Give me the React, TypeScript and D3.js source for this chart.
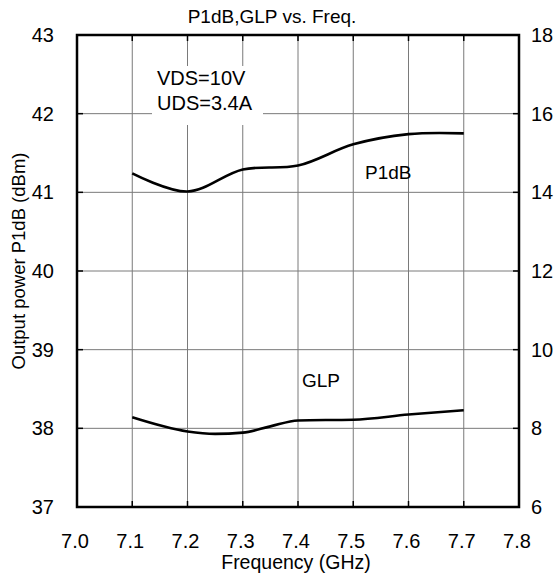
import * as d3 from "d3"

// frequency points (GHz)
const p1dbFreq = [7.1, 7.2, 7.3, 7.4, 7.5, 7.6, 7.7]
// output power P1dB (dBm), left axis
const p1dbValues = [41.24, 41.01, 41.29, 41.34, 41.61, 41.74, 41.75]

const glpFreq = [7.1, 7.2, 7.25, 7.3, 7.35, 7.4, 7.5, 7.6, 7.7]
// linear power gain GLP (dB), right axis
const glpValues = [8.28, 7.92, 7.86, 7.89, 8.05, 8.2, 8.22, 8.35, 8.46]

const xTicks = [7.0, 7.1, 7.2, 7.3, 7.4, 7.5, 7.6, 7.7, 7.8]
const leftTicks = [37, 38, 39, 40, 41, 42, 43]
const rightTicks = [6, 8, 10, 12, 14, 16, 18]

const W = 560
const H = 574
const margin = { top: 35, right: 41, bottom: 67, left: 77 }
const font = "'Liberation Sans', Arial, sans-serif"

export default function App() {
  const x = d3.scaleLinear().domain([7.0, 7.8]).range([margin.left, W - margin.right])
  const yL = d3.scaleLinear().domain([37, 43]).range([H - margin.bottom, margin.top])
  const yR = d3.scaleLinear().domain([6, 18]).range([H - margin.bottom, margin.top])

  const x0 = x(7.0)
  const x1 = x(7.8)
  const y0 = yL(37)
  const y1 = yL(43)

  const p1dbLine = d3
    .line<number>()
    .x((_, i) => x(p1dbFreq[i]))
    .y((d) => yL(d))
    .curve(d3.curveCatmullRom.alpha(0.5))
  const glpLine = d3
    .line<number>()
    .x((_, i) => x(glpFreq[i]))
    .y((d) => yR(d))
    .curve(d3.curveMonotoneX)

  const innerX = xTicks.slice(1, -1)
  const innerY = leftTicks.slice(1, -1)
  const tick = 6

  return (
    <svg
      width={W}
      height={H}
      style={{ position: "absolute", left: 0, top: 0, background: "#fff" }}
      fontFamily={font}
    >
      {/* grid */}
      <g stroke="#7a7a7a" strokeWidth={1}>
        {innerX.map((t) => (
          <line key={"gx" + t} x1={x(t)} x2={x(t)} y1={y1} y2={y0} />
        ))}
        {innerY.map((t) => (
          <line key={"gy" + t} x1={x0} x2={x1} y1={yL(t)} y2={yL(t)} />
        ))}
      </g>
      {/* inward ticks */}
      <g stroke="#000" strokeWidth={1.5}>
        {innerX.map((t) => (
          <g key={"tx" + t}>
            <line x1={x(t)} x2={x(t)} y1={y0} y2={y0 - tick} />
            <line x1={x(t)} x2={x(t)} y1={y1} y2={y1 + tick} />
          </g>
        ))}
        {innerY.map((t) => (
          <g key={"ty" + t}>
            <line x1={x0} x2={x0 + tick} y1={yL(t)} y2={yL(t)} />
            <line x1={x1} x2={x1 - tick} y1={yL(t)} y2={yL(t)} />
          </g>
        ))}
      </g>

      {/* condition box */}
      <rect x={152} y={66} width={111} height={59} fill="#fff" />
      <text x={157} y={85} fontSize={20}>VDS=10V</text>
      <text x={157} y={110} fontSize={20}>UDS=3.4A</text>

      {/* curves */}
      <path d={p1dbLine(p1dbValues) ?? ""} fill="none" stroke="#000" strokeWidth={2.6} />
      <path d={glpLine(glpValues) ?? ""} fill="none" stroke="#000" strokeWidth={2.6} />

      <text x={365} y={179} fontSize={19}>P1dB</text>
      <text x={302} y={387} fontSize={19}>GLP</text>

      {/* frame */}
      <rect x={x0} y={y1} width={x1 - x0} height={y0 - y1} fill="none" stroke="#000" strokeWidth={2.5} />

      {/* axis labels */}
      <g fontSize={20} fill="#000">
        {xTicks.map((t) => (
          <text key={"lx" + t} x={x(t) - 2} y={548} textAnchor="middle">
            {t.toFixed(1)}
          </text>
        ))}
        {leftTicks.map((t) => (
          <text key={"ll" + t} x={54} y={yL(t)} textAnchor="end" dominantBaseline="central">
            {t}
          </text>
        ))}
        {rightTicks.map((t) => (
          <text key={"lr" + t} x={531} y={yR(t)} dominantBaseline="central">
            {t}
          </text>
        ))}
      </g>

      <text x={272} y={23} fontSize={19} textAnchor="middle">P1dB,GLP vs. Freq.</text>
      <text x={296} y={569} fontSize={19.5} textAnchor="middle">Frequency (GHz)</text>
      <text
        transform={`translate(25,261) rotate(-90)`}
        fontSize={18.5}
        textAnchor="middle"
      >
        Output power P1dB (dBm)
      </text>
    </svg>
  )
}
